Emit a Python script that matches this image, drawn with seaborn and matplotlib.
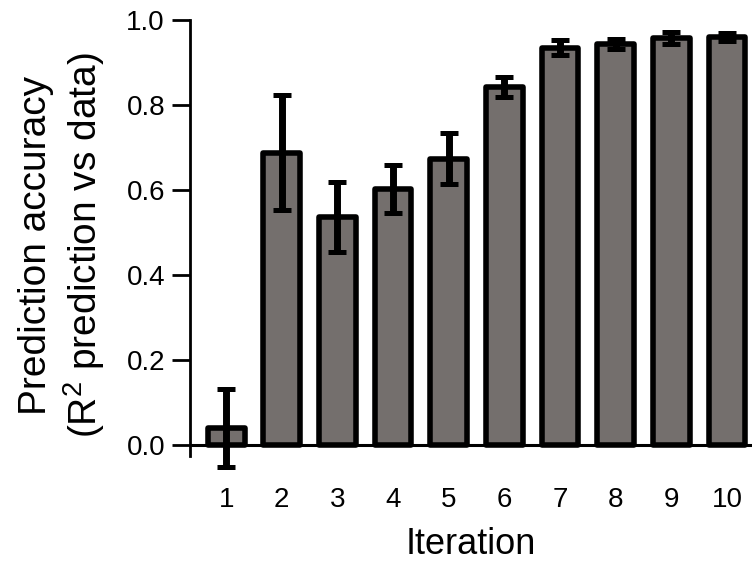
import matplotlib
matplotlib.use("Agg")
import matplotlib.pyplot as plt
import seaborn as sns

# values
iterations = ["1", "2", "3", "4", "5", "6", "7", "8", "9", "10"]
accuracy = [0.040, 0.688, 0.536, 0.602, 0.674, 0.842, 0.935, 0.943, 0.957, 0.960]
errors = [0.092, 0.136, 0.083, 0.056, 0.059, 0.024, 0.017, 0.012, 0.014, 0.010]
y_ticks = [0.0, 0.2, 0.4, 0.6, 0.8, 1.0]

sns.set_style("ticks")
plt.rcParams["font.family"] = ["Liberation Sans", "DejaVu Sans"]
plt.rcParams["mathtext.fontset"] = "custom"
plt.rcParams["mathtext.rm"] = "Liberation Sans"
plt.rcParams["mathtext.it"] = "Liberation Sans:italic"
plt.rcParams["text.color"] = "black"
plt.rcParams["axes.labelcolor"] = "black"
plt.rcParams["xtick.color"] = "black"
plt.rcParams["ytick.color"] = "black"

fig = plt.figure(figsize=(7.52, 5.66), dpi=100)
ax = fig.add_axes([190 / 752, 95.5 / 566, 562 / 752, 450.5 / 566])

sns.barplot(x=iterations, y=accuracy, color="#746f6d", saturation=1,
            width=0.66, edgecolor="black", linewidth=4, errorbar=None, ax=ax)
for p in ax.patches:
    p.set_joinstyle("round")

ax.axhline(0, color="black", lw=2.2, zorder=4)
ax.errorbar(range(len(iterations)), accuracy, yerr=errors, fmt="none",
            ecolor="black", elinewidth=5, capsize=6.5, capthick=3.6,
            zorder=5, clip_on=False)

ax.set_xlim(-0.65, 9.45)
ax.set_ylim(-0.06, 1.0)
ax.set_yticks(y_ticks)
ax.set_yticklabels([f"{t:.1f}" for t in y_ticks])

for s in ["top", "right", "bottom"]:
    ax.spines[s].set_visible(False)
ax.spines["left"].set_linewidth(2)
ax.spines["left"].set_color("black")
ax.spines["left"].set_bounds(-0.025, 1.0)

ax.tick_params(axis="x", length=0, pad=12, labelsize=20)
ax.tick_params(axis="y", length=13, width=2, pad=5, labelsize=20)

ax.set_xlabel("Iteration", fontsize=26, labelpad=10)
ax.set_ylabel("Prediction accuracy\n(R$^2$ prediction vs data)",
              fontsize=28, linespacing=1.2, labelpad=14)

fig.savefig("out.png", dpi=100)
